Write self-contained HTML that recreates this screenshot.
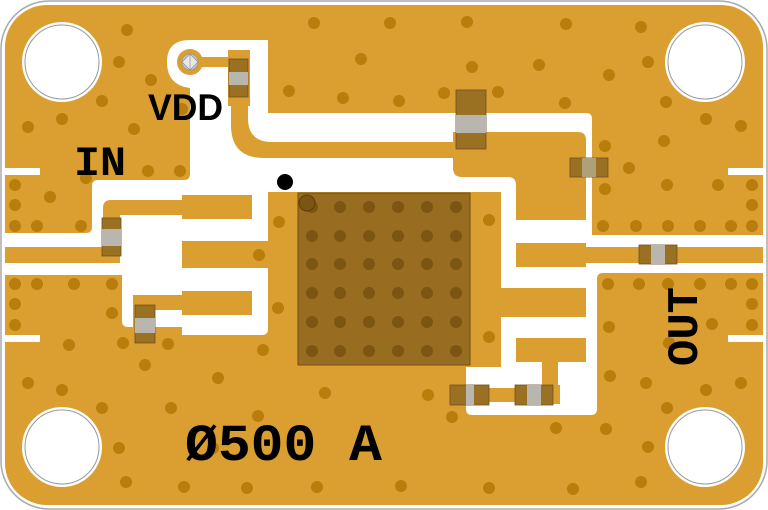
<!DOCTYPE html>
<html><head><meta charset="utf-8"><style>html,body{margin:0;padding:0;background:#fff}svg{display:block}</style></head>
<body>
<svg width="768" height="510" viewBox="0 0 768 510" xmlns="http://www.w3.org/2000/svg">
<rect x="1" y="1" width="766" height="508" rx="48" fill="#fff" stroke="#aaa" stroke-width="1.5"/>
<rect x="5" y="5" width="758" height="500" rx="42" fill="#DA9F30"/>
<g fill="#B97D0B">
<circle cx="119" cy="62" r="6"/><circle cx="151" cy="80" r="6"/><circle cx="102" cy="101" r="6"/><circle cx="62" cy="119" r="6"/><circle cx="28" cy="127" r="6"/><circle cx="134" cy="129" r="6"/><circle cx="182" cy="109" r="6"/><circle cx="86" cy="178" r="6"/><circle cx="148" cy="171" r="6"/><circle cx="180" cy="171" r="6"/><circle cx="15" cy="185" r="6"/><circle cx="50" cy="197" r="6"/><circle cx="15" cy="205" r="6"/><circle cx="15" cy="226" r="6"/><circle cx="37" cy="226" r="6"/><circle cx="81" cy="226" r="6"/><circle cx="127" cy="30" r="6"/>
<circle cx="314" cy="23" r="6"/><circle cx="390" cy="23" r="6"/><circle cx="467" cy="22" r="6"/><circle cx="566" cy="24" r="6"/><circle cx="641" cy="27" r="6"/><circle cx="361" cy="59" r="6"/><circle cx="472" cy="67" r="6"/><circle cx="539" cy="65" r="6"/><circle cx="609" cy="75" r="6"/><circle cx="648" cy="62" r="6"/><circle cx="289" cy="91" r="6"/><circle cx="343" cy="98" r="6"/><circle cx="444" cy="93" r="6"/><circle cx="498" cy="92" r="6"/><circle cx="565" cy="103" r="6"/><circle cx="666" cy="102" r="6"/><circle cx="399" cy="101" r="6"/>
<circle cx="706" cy="119" r="6"/><circle cx="741" cy="126" r="6"/><circle cx="664" cy="141" r="6"/><circle cx="605" cy="146" r="6"/><circle cx="629" cy="168" r="6"/><circle cx="605" cy="189" r="6"/><circle cx="667" cy="185" r="6"/><circle cx="718" cy="185" r="6"/><circle cx="752" cy="185" r="6"/><circle cx="752" cy="205" r="6"/>
<circle cx="603" cy="226" r="6"/><circle cx="636" cy="226" r="6"/><circle cx="668" cy="226" r="6"/><circle cx="700" cy="226" r="6"/><circle cx="731" cy="226" r="6"/><circle cx="752" cy="226" r="6"/>
<circle cx="608" cy="284" r="6"/><circle cx="639" cy="284" r="6"/><circle cx="668" cy="284" r="6"/><circle cx="700" cy="284" r="6"/><circle cx="731" cy="284" r="6"/><circle cx="752" cy="284" r="6"/><circle cx="752" cy="304" r="6"/><circle cx="752" cy="325" r="6"/><circle cx="609" cy="327" r="6"/><circle cx="712" cy="324" r="6"/><circle cx="669" cy="343" r="6"/><circle cx="610" cy="376" r="6"/><circle cx="646" cy="383" r="6"/><circle cx="706" cy="390" r="6"/><circle cx="741" cy="383" r="6"/><circle cx="667" cy="408" r="6"/><circle cx="648" cy="447" r="6"/>
<circle cx="489" cy="220" r="6"/><circle cx="505" cy="302" r="6"/><circle cx="489" cy="337" r="6"/><circle cx="428" cy="395" r="6"/><circle cx="452" cy="417" r="6"/><circle cx="556" cy="428" r="6"/><circle cx="606" cy="429" r="6"/>
<circle cx="401" cy="486" r="6"/><circle cx="489" cy="488" r="6"/><circle cx="573" cy="489" r="6"/><circle cx="641" cy="482" r="6"/>
<circle cx="279" cy="222" r="6"/><circle cx="278" cy="308" r="6"/>
<circle cx="15" cy="284" r="6"/><circle cx="37" cy="284" r="6"/><circle cx="74" cy="284" r="6"/><circle cx="112" cy="284" r="6"/><circle cx="15" cy="304" r="6"/><circle cx="112" cy="313" r="6"/><circle cx="15" cy="325" r="6"/>
<circle cx="69" cy="345" r="6"/><circle cx="123" cy="343" r="6"/><circle cx="168" cy="344" r="6"/><circle cx="263" cy="350" r="6"/><circle cx="145" cy="365" r="6"/><circle cx="218" cy="378" r="6"/><circle cx="28" cy="383" r="6"/><circle cx="62" cy="390" r="6"/><circle cx="102" cy="408" r="6"/><circle cx="171" cy="408" r="6"/><circle cx="325" cy="393" r="6"/><circle cx="258" cy="416" r="6"/><circle cx="119" cy="448" r="6"/><circle cx="126" cy="482" r="6"/><circle cx="184" cy="487" r="6"/><circle cx="247" cy="488" r="6"/><circle cx="317" cy="487" r="6"/><circle cx="213" cy="448" r="6"/>
</g>
<!-- holes -->
<g fill="#fff" stroke="#999" stroke-width="1">
<circle cx="62" cy="62" r="40" stroke="none"/><circle cx="62" cy="62" r="37"/>
<circle cx="705" cy="62" r="40" stroke="none"/><circle cx="705" cy="62" r="37"/>
<circle cx="62" cy="447" r="40" stroke="none"/><circle cx="62" cy="447" r="37"/>
<circle cx="705" cy="447" r="40" stroke="none"/><circle cx="705" cy="447" r="37"/>
</g>
<!-- white clearance -->
<path fill="#fff" d="M190,40 L268,40 L268,113 L586,113 Q592,113 592,119 L592,235 L763,235 L763,273 L603,273 Q597,273 597,279 L597,409 Q597,415 591,415 L472,415 Q466,415 466,409 L466,367 L501,367 L501,192 L268,192 L268,329 Q268,335 262,335 L182,335 L182,327 L128,327 Q122,327 122,321 L122,275 L5,275 L5,233 L86,233 Q92,233 92,227 L92,186 Q92,180 98,180 L184,180 Q190,180 190,174 L190,88 Q167,85 167,62 Q167,40 190,40 Z"/>
<g fill="#fff"><rect x="5" y="168" width="35" height="7"/><rect x="5" y="335" width="35" height="7"/><rect x="728" y="168" width="35" height="7"/><rect x="728" y="335" width="35" height="7"/></g>
<!-- gold traces -->
<g fill="#DA9F30">
<rect x="5" y="247" width="115" height="16"/>
<path d="M103,256 L103,208 Q103,200 111,200 L182,200 L182,215 L120,215 L120,256 Z"/>
<rect x="182" y="195" width="70" height="24"/>
<rect x="182" y="241" width="86" height="27"/>
<rect x="133" y="295" width="49" height="15"/>
<rect x="133" y="295" width="22" height="48"/>
<rect x="182" y="291" width="70" height="24"/>
<circle cx="190" cy="62" r="13"/>
<rect x="190" y="57" width="40" height="10"/>
<rect x="228" y="50" width="22" height="56"/>
<path d="M231,100 L231,125 Q231,158 264,158 L460,158 L460,142 L272,142 Q248,142 248,118 L248,100 Z"/>
<path d="M453,132 L578,132 Q586,132 586,140 L586,220 L516,220 L516,185 Q516,177 508,177 L462,177 Q453,177 453,168 Z"/>
<rect x="516" y="243" width="70" height="24"/>
<rect x="586" y="247" width="177" height="16"/>
<rect x="495" y="288" width="91" height="29"/>
<rect x="516" y="338" width="70" height="24"/>
<rect x="542" y="362" width="16" height="42"/>
<rect x="515" y="385" width="45" height="19"/>
<rect x="489" y="388" width="26" height="14"/>
<rect x="450" y="385" width="39" height="20"/>
</g>
<circle cx="259" cy="255" r="6" fill="#B97D0B"/>
<circle cx="190" cy="62" r="8" fill="#c8c8c8" stroke="#999" stroke-width="0.8"/>
<path d="M190,54 L198,62 L190,70 L182,62 Z" fill="#e8e8e8" stroke="#888" stroke-width="0.6"/>
<path d="M190,54 L190,70" stroke="#888" stroke-width="0.6"/>
<!-- chip -->
<rect x="298" y="193" width="172" height="172" fill="#986D22" stroke="#6e4f15" stroke-width="1"/>
<g fill="#7D5512">
<circle cx="312" cy="207" r="6"/><circle cx="340" cy="207" r="6"/><circle cx="369" cy="207" r="6"/><circle cx="398" cy="207" r="6"/><circle cx="427" cy="207" r="6"/><circle cx="456" cy="207" r="6"/>
<circle cx="312" cy="236" r="6"/><circle cx="340" cy="236" r="6"/><circle cx="369" cy="236" r="6"/><circle cx="398" cy="236" r="6"/><circle cx="427" cy="236" r="6"/><circle cx="456" cy="236" r="6"/>
<circle cx="312" cy="264" r="6"/><circle cx="340" cy="264" r="6"/><circle cx="369" cy="264" r="6"/><circle cx="398" cy="264" r="6"/><circle cx="427" cy="264" r="6"/><circle cx="456" cy="264" r="6"/>
<circle cx="312" cy="293" r="6"/><circle cx="340" cy="293" r="6"/><circle cx="369" cy="293" r="6"/><circle cx="398" cy="293" r="6"/><circle cx="427" cy="293" r="6"/><circle cx="456" cy="293" r="6"/>
<circle cx="312" cy="322" r="6"/><circle cx="340" cy="322" r="6"/><circle cx="369" cy="322" r="6"/><circle cx="398" cy="322" r="6"/><circle cx="427" cy="322" r="6"/><circle cx="456" cy="322" r="6"/>
<circle cx="312" cy="351" r="6"/><circle cx="340" cy="351" r="6"/><circle cx="369" cy="351" r="6"/><circle cx="398" cy="351" r="6"/><circle cx="427" cy="351" r="6"/><circle cx="456" cy="351" r="6"/>
</g>
<circle cx="307" cy="203" r="8" fill="#7D5512" stroke="#5a3d0c" stroke-width="1"/>
<circle cx="285" cy="182" r="8" fill="#000"/>
<!-- caps -->
<g stroke="#6e5020" stroke-width="0.8">
<rect x="229" y="59" width="19" height="38" fill="#9A7023"/><rect x="229" y="72" width="19" height="13" fill="#b9b6b0" stroke="none"/>
<rect x="102" y="218" width="19" height="38" fill="#9A7023"/><rect x="102" y="229" width="19" height="17" fill="#b9b6b0" stroke="none"/>
<rect x="135" y="305" width="20" height="38" fill="#9A7023"/><rect x="135" y="318" width="20" height="15" fill="#b9b6b0" stroke="none"/>
<rect x="456" y="90" width="30" height="59" fill="#9A7023"/><rect x="456" y="115" width="30" height="18" fill="#b9b6b0" stroke="none"/>
<rect x="570" y="158" width="38" height="19" fill="#9A7023"/><rect x="582" y="158" width="14" height="19" fill="#b0a078" stroke="none"/>
<rect x="639" y="245" width="38" height="19" fill="#9A7023"/><rect x="651" y="245" width="14" height="19" fill="#b9b6b0" stroke="none"/>
<rect x="450" y="385" width="39" height="20" fill="#9A7023"/><rect x="466" y="385" width="8" height="20" fill="#b9b6b0" stroke="none"/>
<rect x="515" y="385" width="38" height="20" fill="#9A7023"/><rect x="527" y="385" width="14" height="20" fill="#b9b6b0" stroke="none"/>
</g>
<!-- labels -->
<g font-weight="bold" fill="#000">
<text x="148" y="120" font-family="Liberation Sans, sans-serif" font-size="37" textLength="75" lengthAdjust="spacingAndGlyphs">VDD</text>
<text x="74" y="175" font-family="Liberation Mono, monospace" font-size="42" textLength="52" lengthAdjust="spacingAndGlyphs">IN</text>
<text x="185" y="460" font-family="Liberation Mono, monospace" font-size="52" textLength="197" lengthAdjust="spacingAndGlyphs">Ø500 A</text>
<text transform="translate(697,366) rotate(-90)" font-family="Liberation Mono, monospace" font-size="44" textLength="79" lengthAdjust="spacingAndGlyphs">OUT</text>
</g>
</svg>
</body></html>
